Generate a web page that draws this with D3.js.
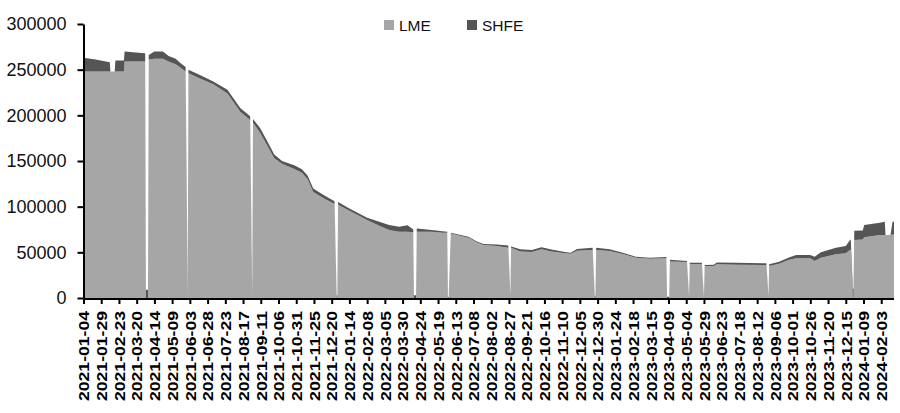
<!DOCTYPE html>
<html>
<head>
<meta charset="utf-8">
<script src="https://cdn.jsdelivr.net/npm/d3@7/dist/d3.min.js"></script>
<style>
body { margin: 0; background: #fff; }
#containerChart { width: 900px; height: 413px; }
</style>
</head>
<body>
<div id="containerChart"></div>
<script>
// stock data (LME holidays -> LME 0, SHFE holidays -> SHFE 0)
var dates = ["2021-01-04","2021-01-21","2021-02-10","2021-02-11","2021-02-17","2021-02-18","2021-03-02","2021-03-03",
	"2021-03-31","2021-04-01","2021-04-02","2021-04-05","2021-04-06","2021-04-14","2021-04-26","2021-05-04",
	"2021-05-14","2021-05-21","2021-05-28","2021-05-31","2021-06-01","2021-06-18","2021-07-06","2021-07-26",
	"2021-08-13","2021-08-27","2021-08-30","2021-08-31","2021-09-10","2021-09-20","2021-09-30","2021-10-11",
	"2021-10-29","2021-11-08","2021-11-16","2021-11-24","2021-12-08","2021-12-24","2021-12-27","2021-12-28",
	"2021-12-29","2022-01-14","2022-02-08","2022-02-25","2022-03-11","2022-03-25","2022-04-06","2022-04-14",
	"2022-04-15","2022-04-18","2022-04-19","2022-05-10","2022-05-25","2022-06-01","2022-06-02","2022-06-03",
	"2022-06-06","2022-06-20","2022-07-01","2022-07-12","2022-07-22","2022-08-10","2022-08-26","2022-08-29",
	"2022-08-30","2022-09-12","2022-09-28","2022-10-12","2022-10-26","2022-11-14","2022-11-22","2022-12-01",
	"2022-12-23","2022-12-26","2022-12-27","2022-12-28","2023-01-16","2023-02-06","2023-02-22","2023-03-14",
	"2023-04-06","2023-04-07","2023-04-10","2023-04-11","2023-05-05","2023-05-08","2023-05-09","2023-05-26",
	"2023-05-29","2023-05-30","2023-06-12","2023-06-16","2023-07-14","2023-08-25","2023-08-28","2023-08-29",
	"2023-09-12","2023-09-25","2023-10-06","2023-10-26","2023-11-01","2023-11-10","2023-12-01","2023-12-15",
	"2023-12-21","2023-12-22","2023-12-25","2023-12-26","2023-12-27","2024-01-08","2024-01-10","2024-02-01",
	"2024-02-08","2024-02-09","2024-02-16","2024-02-19","2024-02-21"];

var lme = [248000,248000,248000,248000,248000,248000,248000,259000,
	259000,259000,0,0,261000,262000,262000,259000,
	256000,252000,248000,0,246000,240000,234000,224000,
	204000,195000,0,192000,181000,167000,153000,147000,
	141000,137000,130000,116000,109500,103000,0,0,
	102000,95500,85500,79000,74500,72600,72600,72000,
	0,0,72600,72600,71500,71500,0,0,
	70500,68000,66000,61000,58000,57000,55000,0,
	55000,51000,50500,53300,51000,49000,48500,51800,
	52500,0,0,52500,51500,47500,44000,43000,
	43500,0,0,40000,39500,0,37200,37000,
	0,35000,35000,36900,36500,36000,0,35000,
	37500,41600,43500,43500,40500,44000,48000,49000,
	52500,53000,0,0,63500,64000,66400,69000,
	69000,69000,69000,69500,69500];

var shfe = [15000,13000,10000,0,0,12000,12000,11000,
	9000,9000,9000,9000,5000,8000,8000,6000,
	6000,5000,5000,5000,4000,4000,3000,4000,
	4000,4000,4000,4000,5000,5000,4000,3000,
	4000,4000,4000,4000,3500,3000,3000,3000,
	3000,2500,2500,4500,5500,5400,7000,3000,
	3000,3000,3400,1900,1500,1000,1000,1000,
	1000,1000,1000,1000,1000,1500,2500,2500,
	1500,2500,2000,2200,2000,1500,1100,1800,
	2500,2500,2500,2500,2000,1500,1200,1000,
	1500,1500,1500,2000,1000,1200,1500,1500,
	1000,1000,1500,2100,2000,2000,2000,2000,
	2200,2400,3500,3500,4700,6000,7000,8000,
	11000,11000,10000,10000,10000,10000,13600,13400,
	14500,0,0,14000,14000];

var seriesNames = ["LME", "SHFE"];
var seriesColors = ["#a6a6a6", "#555555"];
var yTicks = [0, 50000, 100000, 150000, 200000, 250000, 300000];
var xTickLabels = ["2021-01-04","2021-01-29","2021-02-23","2021-03-20","2021-04-14","2021-05-09","2021-06-03",
	"2021-06-28","2021-07-23","2021-08-17","2021-09-11","2021-10-06","2021-10-31","2021-11-25","2021-12-20",
	"2022-01-14","2022-02-08","2022-03-05","2022-03-30","2022-04-24","2022-05-19","2022-06-13","2022-07-08",
	"2022-08-02","2022-08-27","2022-09-21","2022-10-16","2022-11-10","2022-12-05","2022-12-30","2023-01-24",
	"2023-02-18","2023-03-15","2023-04-09","2023-05-04","2023-05-29","2023-06-23","2023-07-18","2023-08-12",
	"2023-09-06","2023-10-01","2023-10-26","2023-11-20","2023-12-15","2024-01-09","2024-02-03"];

var parseDate = d3.utcParse("%Y-%m-%d");

// rows for the stack
var rows = dates.map(function (d, i) {
	return { date: parseDate(d), LME: lme[i], SHFE: shfe[i] };
});

var svg = d3.select("#containerChart")
	.append("svg")
	.attr("width", 900)
	.attr("height", 413);

var x = d3.scaleUtc()
	.domain([parseDate("2021-01-04"), parseDate("2024-02-21")])
	.range([83.5, 894]);

var y = d3.scaleLinear()
	.domain([0, 300000])
	.range([298, 24]);

var stack = d3.stack().keys(seriesNames);
var layers = stack(rows);

var area = d3.area()
	.x(function (d) { return x(d.data.date); })
	.y0(function (d) { return y(d[0]); })
	.y1(function (d) { return y(d[1]); });

svg.selectAll("path.layer")
	.data(layers)
	.enter()
	.append("path")
	.attr("class", "layer")
	.attr("d", area)
	.attr("fill", function (d, i) { return seriesColors[i]; });

// y axis
var yAxis = svg.append("g")
	.attr("transform", "translate(83.5,0)")
	.call(d3.axisLeft(y)
		.tickValues(yTicks)
		.tickSize(6)
		.tickSizeOuter(0)
		.tickPadding(11)
		.tickFormat(d3.format("d")));
yAxis.selectAll("path, line").attr("stroke", "#000").attr("stroke-width", 2);
yAxis.selectAll("text")
	.attr("fill", "#111")
	.style("font-family", "'Liberation Sans', Arial, sans-serif")
	.style("font-size", "18px");

// x axis, a tick every 25 days
var xAxis = svg.append("g")
	.attr("transform", "translate(0,299)")
	.call(d3.axisBottom(x)
		.tickValues(xTickLabels.map(parseDate))
		.tickSize(5)
		.tickSizeOuter(0)
		.tickFormat(d3.utcFormat("%Y-%m-%d")));
xAxis.select("path.domain").attr("d", "M83.5,0H894");
xAxis.selectAll("path, line").attr("stroke", "#000").attr("stroke-width", 2);
xAxis.selectAll("text")
	.attr("transform", "rotate(-90)")
	.attr("x", -12)
	.attr("y", 0)
	.attr("dy", "0.35em")
	.attr("textLength", 90)
	.attr("lengthAdjust", "spacingAndGlyphs")
	.style("text-anchor", "end")
	.attr("fill", "#000")
	.style("font-family", "'Liberation Sans', Arial, sans-serif")
	.style("font-weight", "bold")
	.style("font-size", "15px");

// legend
var legendX = [384, 467];
var legend = svg.selectAll("g.legend")
	.data(seriesNames)
	.enter().append("g")
	.attr("class", "legend");

legend.append("rect")
	.attr("x", function (d, i) { return legendX[i]; })
	.attr("y", 20)
	.attr("width", 10)
	.attr("height", 10)
	.attr("fill", function (d, i) { return seriesColors[i]; });

legend.append("text")
	.attr("x", function (d, i) { return legendX[i] + 15; })
	.attr("y", 30.5)
	.style("font-family", "'Liberation Sans', Arial, sans-serif")
	.style("font-size", "15.5px")
	.attr("fill", "#111")
	.text(function (d) { return d; });
</script>
</body>
</html>
